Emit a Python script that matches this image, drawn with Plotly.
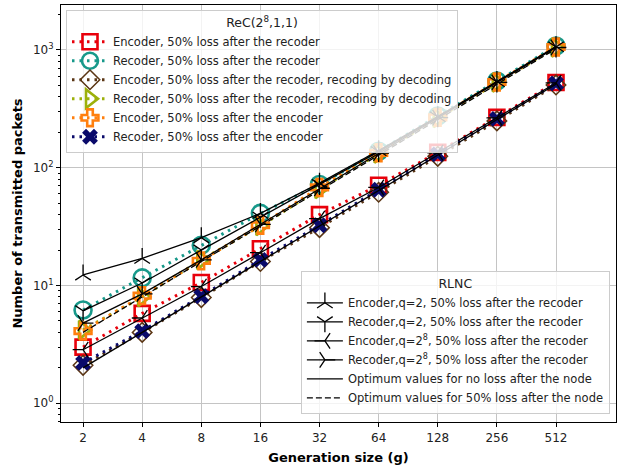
import plotly.graph_objects as go
import math

# ---- data ----
gen_size = [2, 4, 8, 16, 32, 64, 128, 256, 512]

rec_enc_loss_rec = [3.0, 5.8, 10.6, 20.5, 40, 71, 135, 268, 530]
rec_rec_loss_rec = [6.2, 11.6, 22, 41, 72, 138, 275, 545, 1080]
rec_enc_loss_rec_dec = [2.1, 4.0, 7.9, 16, 31, 62, 125, 250, 505]
rec_rec_loss_rec_dec = [4.2, 8.0, 16.5, 32, 66, 132, 265, 530, 1050]
rec_enc_loss_enc = [4.1, 8.2, 16.2, 32.5, 68, 134, 268, 535, 1060]
rec_rec_loss_enc = [2.2, 4.1, 8.1, 16.5, 32.5, 65, 130, 260, 520]

rlnc_enc_q2 = [12.3, 17.0, 25.5, 41, 74, 140, 272, 540, 1070]
rlnc_rec_q2 = [6.1, 10.5, 20, 38, 72, 137, 270, 535, 1060]
rlnc_enc_q28 = [2.85, 5.3, 9.8, 19, 37, 68, 134, 265, 525]
rlnc_rec_q28 = [4.8, 8.5, 16.5, 33, 67, 133, 266, 530, 1050]

opt_no_loss = [2, 4, 8, 16, 32, 64, 128, 256, 512]
opt_half_loss = [4, 8, 16, 32, 64, 128, 256, 512, 1024]

x_ticks = [2, 4, 8, 16, 32, 64, 128, 256, 512]
y_ticks = [1, 10, 100, 1000]
y_ticktext = ["10<sup>0</sup>", "10<sup>1</sup>", "10<sup>2</sup>", "10<sup>3</sup>"]

FONT = "DejaVu Sans"
fig = go.Figure()

rec_series = [
    ("Encoder, 50% loss after the recoder", rec_enc_loss_rec, "#e8000b", "square-open", 15, 2.6),
    ("Recoder, 50% loss after the recoder", rec_rec_loss_rec, "#17998a", "circle-open", 17, 2.6),
    ("Encoder, 50% loss after the recoder, recoding by decoding", rec_enc_loss_rec_dec, "#5a3514", "diamond-open", 15, 1.5),
    ("Recoder, 50% loss after the recoder, recoding by decoding", rec_rec_loss_rec_dec, "#9cb00a", "triangle-right-open", 16, 2.6),
    ("Encoder, 50% loss after the encoder", rec_enc_loss_enc, "#ff7f0e", "cross-open", 14, 2.6),
    ("Recoder, 50% loss after the encoder", rec_rec_loss_enc, "#0a0a6a", "x", 14, 0),
]
for name, vals, col, sym, size, lw in rec_series:
    fig.add_trace(go.Scatter(
        x=gen_size, y=vals, name=name, mode="lines+markers",
        line=dict(color=col, width=3, dash="2.5px,5px"),
        marker=dict(symbol=sym, size=size, color=col, line=dict(width=lw, color=col)),
        legend="legend",
    ))

rlnc_series = [
    ("Encoder,q=2, 50% loss after the recoder", rlnc_enc_q2, "y-up"),
    ("Recoder,q=2, 50% loss after the recoder", rlnc_rec_q2, "y-down"),
    ("Encoder,q=2<sup>8</sup>, 50% loss after the recoder", rlnc_enc_q28, "y-left"),
    ("Recoder,q=2<sup>8</sup>, 50% loss after the recoder", rlnc_rec_q28, "y-right"),
]
for name, vals, sym in rlnc_series:
    fig.add_trace(go.Scatter(
        x=gen_size, y=vals, name=name, mode="lines+markers",
        line=dict(color="black", width=1.3),
        marker=dict(symbol=sym, size=13, color="black", line=dict(width=1.3, color="black")),
        legend="legend2",
    ))

fig.add_trace(go.Scatter(
    x=gen_size, y=opt_no_loss, name="Optimum values for no loss after the node",
    mode="lines", line=dict(color="black", width=1.3), legend="legend2"))
fig.add_trace(go.Scatter(
    x=gen_size, y=opt_half_loss, name="Optimum values for 50% loss after the node",
    mode="lines", line=dict(color="black", width=1.3, dash="6px,3px"), legend="legend2"))

minor_vals = [m * 10 ** k for k in range(-1, 4) for m in range(2, 10)]

fig.update_layout(
    width=624, height=468,
    margin=dict(l=61, r=8, t=5, b=46, autoexpand=False),
    paper_bgcolor="white", plot_bgcolor="white",
    font=dict(family=FONT, size=12, color="#222222"),
    legend=dict(
        title=dict(text="ReC(2<sup>8</sup>,1,1)", side="top center", font=dict(size=12.5)),
        x=0.009, y=0.988, xanchor="left", yanchor="top",
        bgcolor="rgba(255,255,255,0.8)", bordercolor="#cccccc", borderwidth=1,
        font=dict(size=11.5, family=FONT), itemwidth=36,
    ),
    legend2=dict(
        title=dict(text="RLNC", side="top center", font=dict(size=12.5)),
        x=0.989, y=0.019, xanchor="right", yanchor="bottom",
        bgcolor="rgba(255,255,255,0.8)", bordercolor="#cccccc", borderwidth=1,
        font=dict(size=11.5, family=FONT), itemwidth=36,
    ),
    xaxis=dict(
        type="log", range=[math.log10(2 ** 0.627), math.log10(2 ** 10.015)],
        tickmode="array", tickvals=x_ticks, ticktext=[str(v) for v in x_ticks],
        showgrid=True, gridcolor="#c4c4c4", gridwidth=1,
        showline=True, linecolor="black", linewidth=1.2, mirror=True,
        ticks="outside", ticklen=4, tickcolor="black", automargin=False,
        title=dict(text="<b>Generation size (g)</b>", font=dict(size=13, color="black"), standoff=9),
        zeroline=False,
    ),
    yaxis=dict(
        type="log", range=[-0.159, 3.382],
        tickmode="array", tickvals=y_ticks, ticktext=y_ticktext,
        showgrid=True, gridcolor="#c4c4c4", gridwidth=1,
        showline=True, linecolor="black", linewidth=1.2, mirror=True,
        ticks="outside", ticklen=4, tickcolor="black", automargin=False,
        minor=dict(tickmode="array", tickvals=minor_vals, ticks="outside", ticklen=2,
                   tickcolor="black", showgrid=False),
        title=dict(text="<b>Number of transmitted packets</b>", font=dict(size=13, color="black"), standoff=7),
        zeroline=False,
    ),
)

fig.write_html("out.html", config={"displayModeBar": False},
               post_script="document.body.style.margin='0';")
